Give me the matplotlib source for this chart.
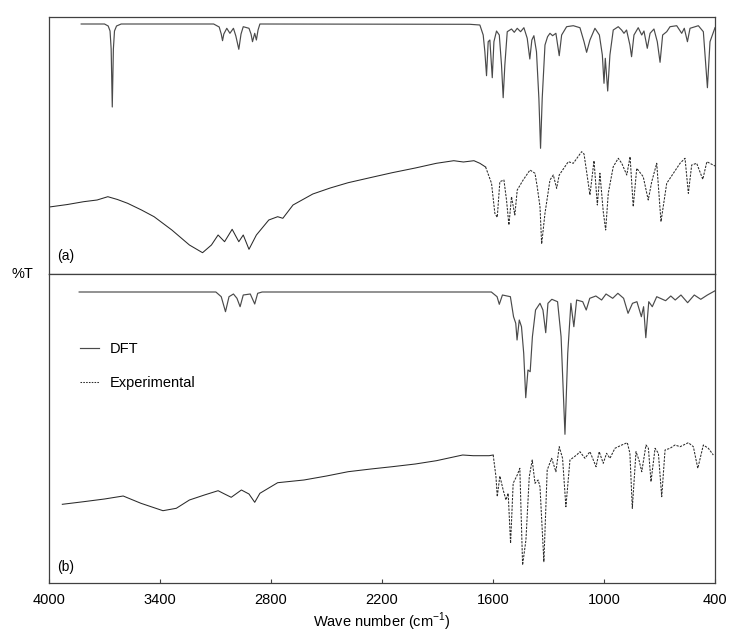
import numpy as np
import matplotlib
matplotlib.use("Agg")
import matplotlib.pyplot as plt
from matplotlib.lines import Line2D

plt.rcParams['font.family'] = ['Liberation Sans', 'DejaVu Sans']
plt.rcParams['mathtext.fontset'] = 'custom'
plt.rcParams['mathtext.rm'] = 'Liberation Sans'

# ---- data (wavenumber in cm-1, %T in arbitrary units) ----
# panel (a) DFT
dft_a_wn = [3826, 3700, 3680, 3670, 3664, 3658, 3652, 3646, 3635, 3610,
            3110, 3080, 3069, 3062, 3055, 3039, 3022, 3003, 2990, 2974, 2962, 2950,
            2919, 2908, 2900, 2888, 2879, 2870, 2860,
            1725, 1671, 1653, 1644, 1635, 1626, 1617, 1604, 1595, 1581, 1566, 1554,
            1545, 1536, 1523, 1500, 1485, 1469, 1451, 1433, 1415, 1401, 1390, 1379,
            1365, 1352, 1343, 1334, 1319, 1305, 1292, 1278, 1260, 1242, 1229, 1202,
            1166, 1130, 1108, 1094, 1076, 1049, 1025, 1009, 1000, 993, 980, 968,
            950, 923, 905, 892, 878, 860, 851, 838, 815, 796, 784, 766, 751, 730,
            712, 697, 683, 661, 643, 607, 580, 566, 549, 535, 490, 463, 441, 427, 400]
dft_a_t = [250, 250, 248, 243, 225, 167, 225, 243, 248, 250,
           250, 247, 240, 233.3, 240, 245.7, 240.7, 245.7, 238, 224.7, 240, 247.3,
           245.7, 240, 232.3, 240.7, 234, 244, 250,
           249.7, 249, 239, 222.3, 198.3, 232.3, 234, 196.3, 232.3, 243, 239, 209,
           176.3, 209, 242.3, 245, 241.7, 245.7, 242.3, 246.3, 235.7, 215, 234, 238.3,
           222.3, 175.7, 125.7, 175.7, 229, 237.3, 240.7, 238.3, 240.7, 218.3, 239, 247.3,
           248.3, 246.3, 232.3, 221.7, 234, 245.7, 239, 219, 190.7, 215.7, 183, 219,
           244, 247.3, 244, 240.7, 244, 229, 217.3, 239, 246.3, 239, 243, 225.7, 240.7, 245,
           232.3, 211.7, 239, 242.3, 247.3, 248.3, 240.7, 245.7, 232.3, 245.7, 248.3, 242.3,
           186.3, 232.3, 246.3]

# panel (a) experimental
exp_a_wn = [3998, 3900, 3813, 3740, 3682, 3630, 3575, 3500, 3432, 3336, 3241, 3170,
            3122, 3086, 3051, 3010, 2974, 2950, 2919, 2879, 2812, 2764, 2736, 2681,
            2574, 2480, 2383, 2260, 2145, 2020, 1906, 1812, 1760, 1703, 1671, 1640,
            1608, 1590, 1577, 1563, 1541, 1527, 1514, 1500, 1482, 1469, 1437, 1400,
            1373, 1361, 1346, 1337, 1319, 1292, 1274, 1256, 1242, 1193, 1166, 1121,
            1108, 1094, 1076, 1054, 1036, 1022, 1004, 991, 977, 950, 923, 904, 877,
            859, 842, 823, 788, 761, 742, 715, 692, 661, 625, 589, 562, 544, 526,
            499, 466, 444, 400]
exp_a_t = [67, 69.5, 72.3, 74, 77.3, 74.5, 70.7, 64, 57.3, 44, 29, 21.3,
           29, 39, 32.3, 44.7, 32.3, 39, 24.7, 39, 54, 57.3, 55.7, 69,
           80, 86, 91.3, 96.5, 101.3, 106, 110.7, 113.3, 112, 113.3, 110.7, 107,
           90.7, 60.7, 56.7, 92.3, 94, 74, 49, 77.3, 59, 84, 94, 104,
           100.7, 87.3, 67.3, 30, 60.7, 94, 99, 85.7, 99, 112.3, 110.7, 122.3,
           120, 102.3, 79, 113.3, 69, 100.7, 62.3, 44, 80.7, 107.3, 115.7, 110.7, 99,
           117.3, 67.3, 105.7, 97.3, 74, 92.3, 110.7, 52.3, 90.7, 100.7, 110.7, 115.7, 80.7, 109,
           110.7, 94.7, 112.3, 108]
exp_a_split = 1640  # solid above, dashed below

# panel (b) DFT
dft_b_wn = [3837, 3098, 3069, 3046, 3027, 3003, 2984, 2967, 2950, 2912, 2888, 2872, 2848,
            1609, 1578, 1566, 1549, 1506, 1489, 1477, 1470, 1458, 1446, 1434, 1423,
            1411, 1399, 1387, 1370, 1346, 1330, 1315, 1303, 1282, 1251, 1232, 1211,
            1196, 1179, 1163, 1148, 1115, 1096, 1077, 1044, 1013, 989, 953, 925, 894,
            870, 846, 822, 798, 786, 774, 758, 739, 715, 667, 639, 615, 584, 548,
            512, 477, 441, 402]
dft_b_t = [291, 291, 286.3, 271.3, 286.3, 289, 284.7, 276.3, 288, 289, 279, 289.7, 291,
           291, 286.3, 278.7, 288, 286.3, 266.3, 259.7, 243, 263, 256.3, 229.7, 185.3,
           213, 211.3, 246.3, 273, 279.7, 273, 250.3, 279.7, 283.7, 281.3, 246.3, 148.7,
           229.7, 279.7, 256.3, 283, 281.3, 273, 284.7, 287, 283, 289, 284.7, 289.7, 284.7,
           269.7, 279.7, 281.3, 266.3, 276.3, 245.3, 281.3, 276.3, 286.3, 282.3, 287, 283, 288, 280.3,
           288, 283.7, 288, 292]

# panel (b) experimental
exp_b_wn = [3928, 3813, 3700, 3599, 3503, 3384, 3312, 3241, 3160, 3086, 3051, 3015,
            2960, 2919, 2888, 2860, 2764, 2622, 2500, 2383, 2260, 2145, 2020, 1906,
            1764, 1707, 1621, 1599,
            1584, 1577, 1563, 1545, 1530, 1518, 1505, 1491, 1469, 1455, 1440, 1422,
            1404, 1388, 1373, 1356, 1346, 1325, 1307, 1283, 1260, 1242, 1224, 1206,
            1184, 1148, 1130, 1103, 1076, 1043, 1026, 1004, 986, 968, 941, 904, 874,
            860, 847, 827, 811, 796, 773, 760, 746, 724, 706, 688, 670, 643, 616,
            589, 544, 517, 493, 463, 436, 409]
exp_b_t = [78.7, 81.3, 84, 87, 79.7, 72.3, 74.7, 83, 88, 92.3, 89, 85.7,
           93, 89, 80.7, 89.7, 100.3, 103, 107, 111.3, 114, 116.3, 119, 122.3,
           128, 127.3, 127.3, 128,
           106.3, 86.3, 107, 93, 83, 89.7, 39.7, 99.7, 108, 114.7, 18, 43,
           106.3, 123, 99.7, 103, 96.3, 21.3, 113, 124.7, 111.3, 136.3, 124.7, 76.3,
           123, 128, 131.3, 124.7, 131.3, 116.3, 131.3, 119.7, 129.7, 124.7, 134.7, 138, 140.3,
           129.7, 74.7, 131.3, 123, 111.3, 138, 134.7, 101.3, 134.7, 129.7, 86.3, 133, 134.7, 138,
           136.3, 140.3, 136.3, 114.7, 138, 134.7, 128]
exp_b_split = 1599

xticks = [4000, 3400, 2800, 2200, 1600, 1000, 400]

# ---- figure ----
fig = plt.figure(figsize=(7.31, 6.35), dpi=100)
gs = fig.add_gridspec(2, 1, height_ratios=[257.5, 309], hspace=0,
                      left=49 / 731, right=715 / 731, top=1 - 16.5 / 635, bottom=1 - 583 / 635)
ax_a = fig.add_subplot(gs[0])
ax_b = fig.add_subplot(gs[1], sharex=ax_a)

dft_color = '#4a4a4a'
exp_color = '#2a2a2a'
dash = (0, (2.2, 1.2))


def draw_panel(ax, dwn, dt, ewn, et, split):
    ax.plot(dwn, dt, color=dft_color, lw=0.85, solid_joinstyle='round')
    ewn = np.array(ewn)
    et = np.array(et)
    hi = ewn >= split
    lo = ewn <= split
    ax.plot(ewn[hi], et[hi], color=exp_color, lw=0.75)
    ax.plot(ewn[lo], et[lo], color=exp_color, lw=0.75, linestyle=dash)


draw_panel(ax_a, dft_a_wn, dft_a_t, exp_a_wn, exp_a_t, exp_a_split)
draw_panel(ax_b, dft_b_wn, dft_b_t, exp_b_wn, exp_b_t, exp_b_split)

ax_a.set_ylim(0, 257.5)
ax_b.set_ylim(0, 309)
ax_a.set_xlim(4000, 400)

for ax in (ax_a, ax_b):
    ax.set_yticks([])
    for s in ax.spines.values():
        s.set_color('#404040')
        s.set_linewidth(0.9)

ax_a.tick_params(axis='x', bottom=False, labelbottom=False)
ax_b.set_xticks(xticks)
ax_b.set_xticklabels([str(v) for v in xticks])
ax_b.tick_params(axis='x', direction='in', length=3, width=0.8, color='#404040',
                 labelsize=10.5, pad=7)
ax_b.set_xlabel('Wave number (cm$^{\\mathregular{-1}}$)', fontsize=10.5, labelpad=3)

ax_a.text(0.012, 0.07, '(a)', transform=ax_a.transAxes, fontsize=10, va='center', ha='left')
ax_b.text(0.012, 0.052, '(b)', transform=ax_b.transAxes, fontsize=10, va='center', ha='left')
fig.text(22 / 731, 1 - 274 / 635, '%T', fontsize=10.5, va='center', ha='center')

handles = [Line2D([], [], color=dft_color, lw=0.85),
           Line2D([], [], color=exp_color, lw=0.75, linestyle=(0, (1.5, 1.2)))]
ax_b.legend(handles, ['DFT', 'Experimental'], loc='center left',
            bbox_to_anchor=(31 / 666, (583 - 366) / 309), frameon=False,
            borderpad=0, borderaxespad=0, handlelength=1.3, handletextpad=0.75,
            labelspacing=1.35, fontsize=10.5)

fig.savefig('out.png', dpi=100)
